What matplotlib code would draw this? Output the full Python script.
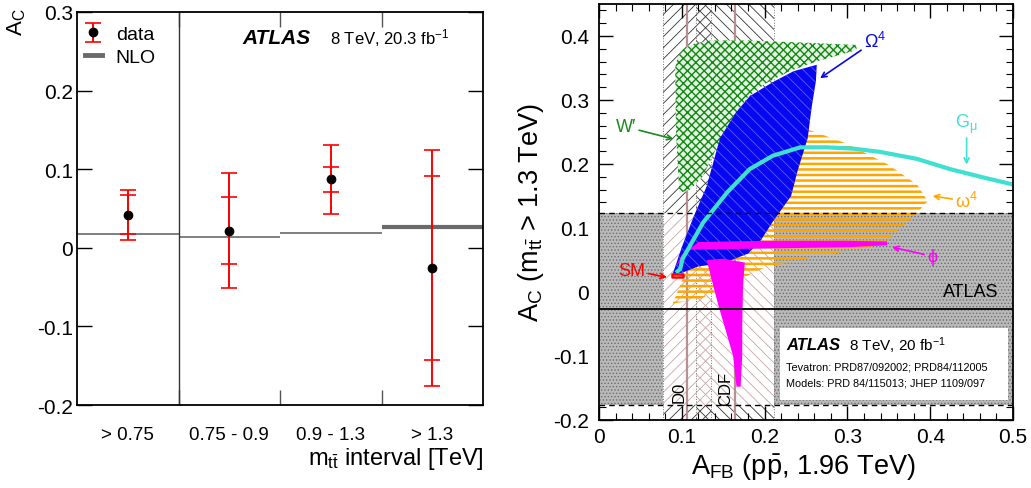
import matplotlib
matplotlib.use("Agg")
import matplotlib.pyplot as plt
from matplotlib.lines import Line2D
from matplotlib.ticker import MultipleLocator, FuncFormatter

plt.rcParams['font.family'] = ['Liberation Sans', 'DejaVu Sans']
plt.rcParams['mathtext.fontset'] = 'custom'
plt.rcParams['mathtext.rm'] = 'Liberation Sans'
plt.rcParams['mathtext.it'] = 'Liberation Sans:italic'
plt.rcParams['mathtext.bf'] = 'Liberation Sans:bold'
plt.rcParams['axes.unicode_minus'] = False
plt.rcParams['hatch.linewidth'] = 0.6

# ---------------- data: left panel ----------------
bin_labels = ["> 0.75", "0.75 - 0.9", "0.9 - 1.3", "> 1.3"]
ac_data = [0.042, 0.022, 0.087, -0.026]
ac_stat = [0.025, 0.042, 0.016, 0.117]
ac_total = [0.032, 0.073, 0.044, 0.150]
ac_nlo = [0.018, 0.014, 0.019, 0.027]

# ---------------- data: right panel ----------------
d0_afb, d0_err = 0.106, 0.029
cdf_afb, cdf_err = 0.164, 0.047
atlas_ac, atlas_err = -0.026, 0.150
sm_afb = [0.088, 0.101]
sm_ac = [0.024, 0.028]

wprime_afb = [0.097, 0.093, 0.092, 0.095, 0.102, 0.115, 0.135, 0.180, 0.240, 0.311,
              0.311, 0.262, 0.230, 0.200, 0.180, 0.160, 0.140, 0.125, 0.110]
wprime_ac = [0.155, 0.250, 0.350, 0.368, 0.380, 0.388, 0.393, 0.393, 0.390, 0.386,
             0.378, 0.360, 0.345, 0.325, 0.305, 0.270, 0.220, 0.180, 0.160]

omega_afb = [0.089, 0.100, 0.115, 0.130, 0.146, 0.165, 0.182, 0.210, 0.235, 0.263,
             0.262, 0.257, 0.252, 0.240, 0.232, 0.210, 0.195, 0.180, 0.150, 0.120, 0.100]
omega_ac = [0.028, 0.070, 0.120, 0.165, 0.240, 0.280, 0.306, 0.328, 0.345, 0.355,
            0.330, 0.290, 0.240, 0.190, 0.150, 0.110, 0.080, 0.060, 0.045, 0.040, 0.030]

omega_small_afb = [0.089, 0.120, 0.140, 0.170, 0.200, 0.250, 0.300, 0.345, 0.360, 0.375,
                   0.385, 0.397, 0.384, 0.348, 0.297, 0.250, 0.220, 0.186, 0.160, 0.120]
omega_small_ac = [-0.018, -0.012, 0.000, 0.020, 0.038, 0.052, 0.064, 0.075, 0.095, 0.112,
                  0.125, 0.142, 0.168, 0.200, 0.233, 0.255, 0.270, 0.305, 0.200, 0.080]

phi_band_afb = [0.093, 0.110, 0.200, 0.300, 0.348, 0.348, 0.300, 0.200, 0.120, 0.100]
phi_band_ac = [0.040, 0.066, 0.068, 0.070, 0.073, 0.079, 0.080, 0.080, 0.078, 0.058]
phi_branch_afb = [0.130, 0.150, 0.176, 0.174, 0.173, 0.173, 0.171, 0.166, 0.162, 0.153, 0.144, 0.136]
phi_branch_ac = [0.050, 0.052, 0.046, 0.010, -0.050, -0.100, -0.148, -0.148, -0.100, -0.060, -0.020, 0.020]

gmu_afb = [0.093, 0.098, 0.101, 0.126, 0.155, 0.182, 0.210, 0.243, 0.275, 0.307,
           0.339, 0.384, 0.424, 0.464, 0.500]
gmu_ac = [0.030, 0.036, 0.052, 0.109, 0.156, 0.192, 0.213, 0.226, 0.226, 0.224,
          0.219, 0.208, 0.192, 0.179, 0.168]

W, H = 1031, 489
fig = plt.figure(figsize=(W / 100, H / 100), dpi=100)
fx = lambda px: px / W
fy = lambda py: 1 - py / H


def hatch_lw(patches, lw):
    for p in patches:
        if hasattr(p, 'set_hatch_linewidth'):
            p.set_hatch_linewidth(lw)
        else:
            p._hatch_linewidth = lw


# ================= left panel =================
ax = fig.add_axes([fx(77), fy(406), fx(483) - fx(77), fy(13) - fy(406)])
ax.set_xlim(0, 4)
ax.set_ylim(-0.2, 0.3)
centers = [i + 0.5 for i in range(len(ac_data))]

nlo_lw = [1.2, 1.2, 1.2, 3.0]
for i, v in enumerate(ac_nlo):
    ax.hlines(v, i, i + 1, color='#6a6a6a', lw=nlo_lw[i], zorder=2)
ax.axvline(1, color='#333333', lw=1.0, zorder=2)

ax.errorbar(centers, ac_data, yerr=ac_total, fmt='none', ecolor='#ff0000',
            elinewidth=1.4, capsize=6, capthick=1.2, zorder=3)
eb = ax.errorbar(centers, ac_data, yerr=ac_stat, fmt='o', color='black', ms=6,
                 ecolor='#ff0000', elinewidth=1.4, capsize=6, capthick=1.2, zorder=4)

ax.set_xticks([1, 2, 3])
ax.set_xticklabels([])
ax.set_xticks(centers, minor=True)
ax.set_xticklabels(bin_labels, minor=True, fontsize=13.5)
ax.tick_params(axis='x', which='major', direction='in', top=True, bottom=True,
               length=11, width=1, color='#555555')
ax.tick_params(axis='x', which='minor', length=0, pad=15)
ax.yaxis.set_major_locator(MultipleLocator(0.1))
ax.yaxis.set_major_formatter(FuncFormatter(lambda v, p: '%g' % round(v, 3)))
ax.tick_params(axis='y', direction='in', left=True, right=True, length=11,
               width=1, labelsize=15, pad=3)
for s in ax.spines.values():
    s.set_linewidth(1.3)

handles = [eb, Line2D([], [], color='#6a6a6a', lw=3.5)]
ax.legend(handles, ['data', 'NLO'], loc='upper left', bbox_to_anchor=(-0.01, 0.995),
          frameon=False, fontsize=14, handlelength=0.9, handletextpad=0.7,
          labelspacing=0.25, borderaxespad=0.2)

ax.text(0.407, 0.935, 'ATLAS', transform=ax.transAxes, fontsize=15,
        fontweight='bold', style='italic', va='center', ha='left')
ax.text(0.623, 0.935, '8 TeV, 20.3 fb$^{-1}$', transform=ax.transAxes,
        fontsize=12, va='center', ha='left')

fig.text(fx(17), fy(8), 'A$_{\\mathrm{C}}$', rotation=90, ha='center', va='top', fontsize=16)
fig.text(fx(484), fy(459), 'm$_{\\mathrm{t\\bar{t}}}$ interval [TeV]', ha='right',
         va='center', fontsize=17)

# ================= right panel =================
bx = fig.add_axes([fx(599), fy(421), fx(1013) - fx(599), fy(5) - fy(421)])
bx.set_xlim(0, 0.5)
bx.set_ylim(-0.2, 0.45)
ylo, yhi = -0.2, 0.45
a_lo, a_hi = atlas_ac - atlas_err, atlas_ac + atlas_err
d0_lo, d0_hi = d0_afb - d0_err, d0_afb + d0_err
cdf_lo, cdf_hi = cdf_afb - cdf_err, cdf_afb + cdf_err

# Tevatron bands (black hatch outside the ATLAS band)
bx.fill_between([d0_lo, d0_hi], ylo, yhi, facecolor='none', edgecolor='#333333',
                hatch='///', lw=0, zorder=1)
bx.fill_between([cdf_lo, cdf_hi], ylo, yhi, facecolor='none', edgecolor='#333333',
                hatch='\\\\\\', lw=0, zorder=1)
# ATLAS band
bx.fill_between([0, 0.5], a_lo, a_hi, facecolor='#b9b9b9', edgecolor='#6e6e6e',
                hatch='.....', lw=0, zorder=2)
# Tevatron bands inside the ATLAS band (rosy hatch on white)
bx.fill_between([d0_lo, cdf_hi], a_lo, a_hi, facecolor='white', lw=0, zorder=3)
bx.fill_between([d0_lo, d0_hi], a_lo, a_hi, facecolor='none', edgecolor='#c9a5a5',
                hatch='///', lw=0, zorder=3)
bx.fill_between([cdf_lo, cdf_hi], a_lo, a_hi, facecolor='none', edgecolor='#c9a5a5',
                hatch='\\\\\\', lw=0, zorder=3)
for xe in [d0_lo, d0_hi, cdf_lo, cdf_hi]:
    bx.axvline(xe, color='#777777', lw=0.7, ls=':', zorder=3)
bx.axvline(d0_afb, color='#b89090', lw=1.6, zorder=4)
bx.axvline(cdf_afb, color='#b89090', lw=1.6, zorder=4)

# models
pg = bx.fill(wprime_afb, wprime_ac, facecolor='#e4f2e4', edgecolor='#128812',
             hatch='xxxx', lw=0, zorder=5)
hatch_lw(pg, 1.0)
po = bx.fill(omega_small_afb, omega_small_ac, facecolor='none', edgecolor='#ffa500',
             hatch='---', lw=0, zorder=5)
hatch_lw(po, 1.8)
pbl = bx.fill(omega_afb, omega_ac, facecolor='#0808f0', edgecolor='#5a5aff', hatch='\\\\\\',
              lw=0, zorder=6)
hatch_lw(pbl, 0.6)
bx.fill(phi_band_afb, phi_band_ac, facecolor='#ff00ff', lw=0, zorder=7)
bx.fill(phi_branch_afb, phi_branch_ac, facecolor='#ff00ff', lw=0, zorder=7)
bx.plot(gmu_afb, gmu_ac, color='#40e0d0', lw=3, zorder=8, solid_capstyle='butt')

# ATLAS measurement
bx.axhline(atlas_ac, color='black', lw=1.3, zorder=9)
bx.axhline(a_hi, color='black', lw=1.0, ls=(0, (4, 3)), zorder=9)
bx.axhline(a_lo, color='black', lw=1.0, ls=(0, (4, 3)), zorder=9)
bx.fill_between(sm_afb, sm_ac[0], sm_ac[1], facecolor='none', edgecolor='#ff0000',
                lw=1.8, zorder=9)

# labels and arrows
arr = lambda c: dict(arrowstyle='->', color=c, lw=1.2, mutation_scale=9,
                     shrinkA=0, shrinkB=0)
bx.annotate("W\u2032", xy=(0.090, 0.239), xytext=(0.045, 0.258), color='#1a8a1a',
            fontsize=13, ha='right', va='center', arrowprops=arr('#1a8a1a'), zorder=12)
bx.annotate("Ω$^{4}$", xy=(0.267, 0.334), xytext=(0.32, 0.377), color='#0a0ae6',
            fontsize=13, ha='left', va='bottom', arrowprops=arr('#0a0ae6'), zorder=12)
bx.annotate("G$_{\\mathrm{μ}}$", xy=(0.444, 0.199), xytext=(0.444, 0.245), color='#40e0d0',
            fontsize=13, ha='center', va='bottom', arrowprops=arr('#40e0d0'), zorder=12)
bx.annotate("ω$^{4}$", xy=(0.403, 0.150), xytext=(0.43, 0.142), color='#ffa500',
            fontsize=13, ha='left', va='center', arrowprops=arr('#ffa500'), zorder=12)
bx.annotate("ϕ", xy=(0.354, 0.070), xytext=(0.396, 0.056), color='#ff00ff',
            fontsize=13, ha='left', va='center', arrowprops=arr('#ff00ff'), zorder=12)
bx.annotate("SM", xy=(0.082, 0.023), xytext=(0.056, 0.034), color='#ff0000',
            fontsize=13, ha='right', va='center', arrowprops=arr('#ff0000'), zorder=12)

bx.text(0.483, 0.001, 'ATLAS', fontsize=13, ha='right', va='center', zorder=12)
bx.text(0.097, -0.155, 'D0', rotation=90, fontsize=12, ha='center', va='center', zorder=12)
bx.text(0.153, -0.150, 'CDF', rotation=90, fontsize=12, ha='center', va='center', zorder=12)

# info box
bx.fill_between([0.219, 0.494], -0.168, -0.057, facecolor='white', lw=0, zorder=10)
bx.text(0.226, -0.082, 'ATLAS', fontsize=12, fontweight='bold', style='italic',
        ha='left', va='center', zorder=11)
bx.text(0.302, -0.082, '8 TeV, 20 fb$^{-1}$', fontsize=11, ha='left', va='center', zorder=11)
bx.text(0.226, -0.117, 'Tevatron: PRD87/092002; PRD84/112005', fontsize=7.8,
        ha='left', va='center', zorder=11)
bx.text(0.226, -0.142, 'Models: PRD 84/115013; JHEP 1109/097', fontsize=7.8,
        ha='left', va='center', zorder=11)

bx.xaxis.set_major_locator(MultipleLocator(0.1))
bx.xaxis.set_minor_locator(MultipleLocator(0.02))
bx.yaxis.set_major_locator(MultipleLocator(0.1))
bx.yaxis.set_minor_locator(MultipleLocator(0.02))
fmt = FuncFormatter(lambda v, p: '%g' % round(v, 3))
bx.xaxis.set_major_formatter(fmt)
bx.yaxis.set_major_formatter(fmt)
bx.tick_params(which='both', direction='in', top=True, bottom=True, left=True,
               right=True, labelsize=15)
bx.tick_params(which='major', length=10, width=1)
bx.tick_params(which='minor', length=5, width=0.8)
bx.tick_params(axis='x', pad=5)
bx.tick_params(axis='y', pad=7)
for s in bx.spines.values():
    s.set_linewidth(1.3)
    s.set_zorder(13)

fig.text(fx(531), fy(213), 'A$_{\\mathrm{C}}$ (m$_{\\mathrm{t\\bar{t}}}$ > 1.3 TeV)',
         rotation=90, ha='center', va='center', fontsize=19.5)
fig.text(fx(803), fy(468), 'A$_{\\mathrm{FB}}$ (p$\\mathrm{\\bar{p}}$, 1.96 TeV)',
         ha='center', va='center', fontsize=19.5)

fig.savefig('out.png', dpi=100)
